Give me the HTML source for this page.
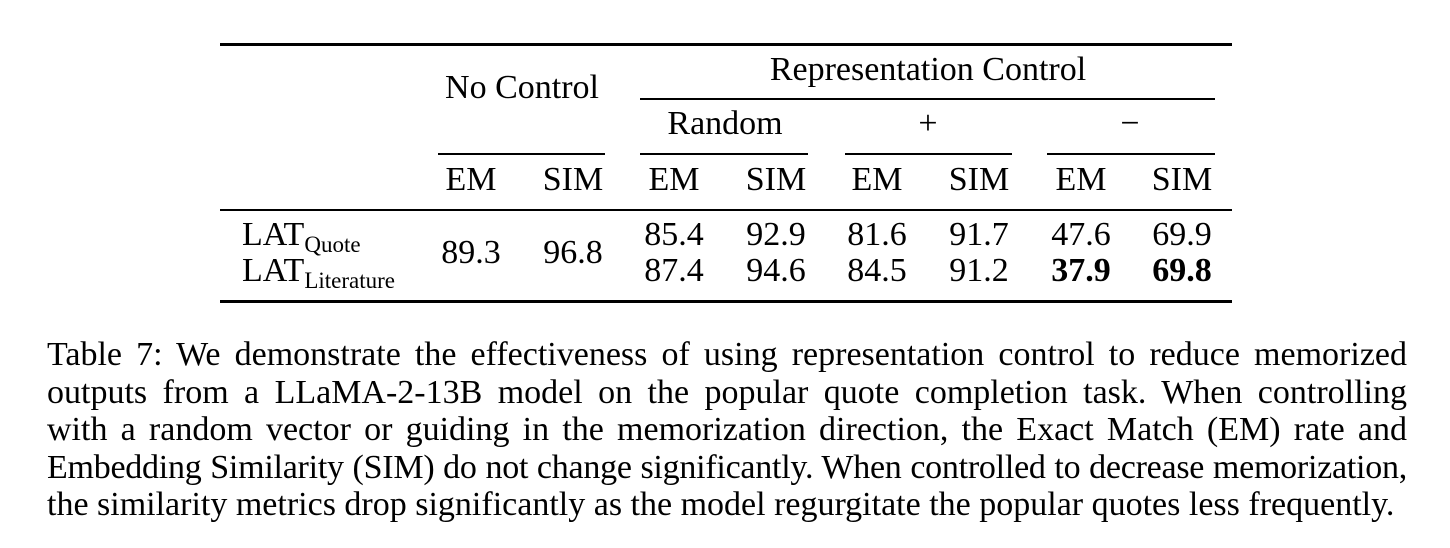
<!DOCTYPE html>
<html><head><meta charset="utf-8"><style>
body{margin:0;background:#fff;width:1450px;height:548px;position:relative;overflow:hidden;font-family:"Liberation Serif",serif;color:#000}
.t{position:absolute;font-size:34px;line-height:34px;white-space:nowrap;transform:translateX(-50%)}
.l{position:absolute;font-size:34px;line-height:34px;white-space:nowrap}
.r{position:absolute;background:#000}
sub{font-size:23px;vertical-align:-7px;line-height:0}
.cap{position:absolute;left:47px;width:1360px;font-size:34px;line-height:37.5px;top:336px}
.cl{display:block;text-align:justify;text-align-last:justify;height:37.5px;white-space:nowrap}
.cl.last{text-align-last:left}
</style></head><body>
<div class="r" style="left:220px;top:43px;width:1012px;height:3px"></div>
<div class="t" style="left:522px;top:71px">No Control</div>
<div class="t" style="left:928px;top:53px">Representation Control</div>
<div class="r" style="left:640px;top:98px;width:575px;height:1.5px"></div>
<div class="t" style="left:725px;top:107px">Random</div>
<div class="t" style="left:928px;top:107px">+</div>
<div class="t" style="left:1130px;top:107px">−</div>
<div class="r" style="left:438px;top:153px;width:167px;height:1.5px"></div>
<div class="r" style="left:640px;top:153px;width:168px;height:1.5px"></div>
<div class="r" style="left:845px;top:153px;width:167px;height:1.5px"></div>
<div class="r" style="left:1047px;top:153px;width:168px;height:1.5px"></div>
<div class="t" style="left:471px;top:163px">EM</div>
<div class="t" style="left:573px;top:163px">SIM</div>
<div class="t" style="left:674px;top:163px">EM</div>
<div class="t" style="left:776px;top:163px">SIM</div>
<div class="t" style="left:877px;top:163px">EM</div>
<div class="t" style="left:979px;top:163px">SIM</div>
<div class="t" style="left:1081px;top:163px">EM</div>
<div class="t" style="left:1182px;top:163px">SIM</div>
<div class="r" style="left:220px;top:209px;width:1012px;height:2px"></div>
<div class="l" style="left:242px;top:218px">LAT<sub>Quote</sub></div>
<div class="l" style="left:242px;top:254px">LAT<sub>Literature</sub></div>
<div class="t" style="left:471px;top:236px">89.3</div>
<div class="t" style="left:573px;top:236px">96.8</div>
<div class="t" style="left:674px;top:218px">85.4</div>
<div class="t" style="left:776px;top:218px">92.9</div>
<div class="t" style="left:877px;top:218px">81.6</div>
<div class="t" style="left:979px;top:218px">91.7</div>
<div class="t" style="left:1081px;top:218px">47.6</div>
<div class="t" style="left:1182px;top:218px">69.9</div>
<div class="t" style="left:674px;top:254px">87.4</div>
<div class="t" style="left:776px;top:254px">94.6</div>
<div class="t" style="left:877px;top:254px">84.5</div>
<div class="t" style="left:979px;top:254px">91.2</div>
<div class="t" style="left:1081px;top:254px;font-weight:bold">37.9</div>
<div class="t" style="left:1182px;top:254px;font-weight:bold">69.8</div>
<div class="r" style="left:220px;top:300px;width:1012px;height:3px"></div>
<div class="cap">
<span class="cl">Table 7: We demonstrate the effectiveness of using representation control to reduce memorized</span>
<span class="cl">outputs from a LLaMA-2-13B model on the popular quote completion task. When controlling</span>
<span class="cl">with a random vector or guiding in the memorization direction, the Exact Match (EM) rate and</span>
<span class="cl" style="letter-spacing:-0.25px">Embedding Similarity (SIM) do not change significantly. When controlled to decrease memorization,</span>
<span class="cl last">the similarity metrics drop significantly as the model regurgitate the popular quotes less frequently.</span>
</div>
</body></html>
